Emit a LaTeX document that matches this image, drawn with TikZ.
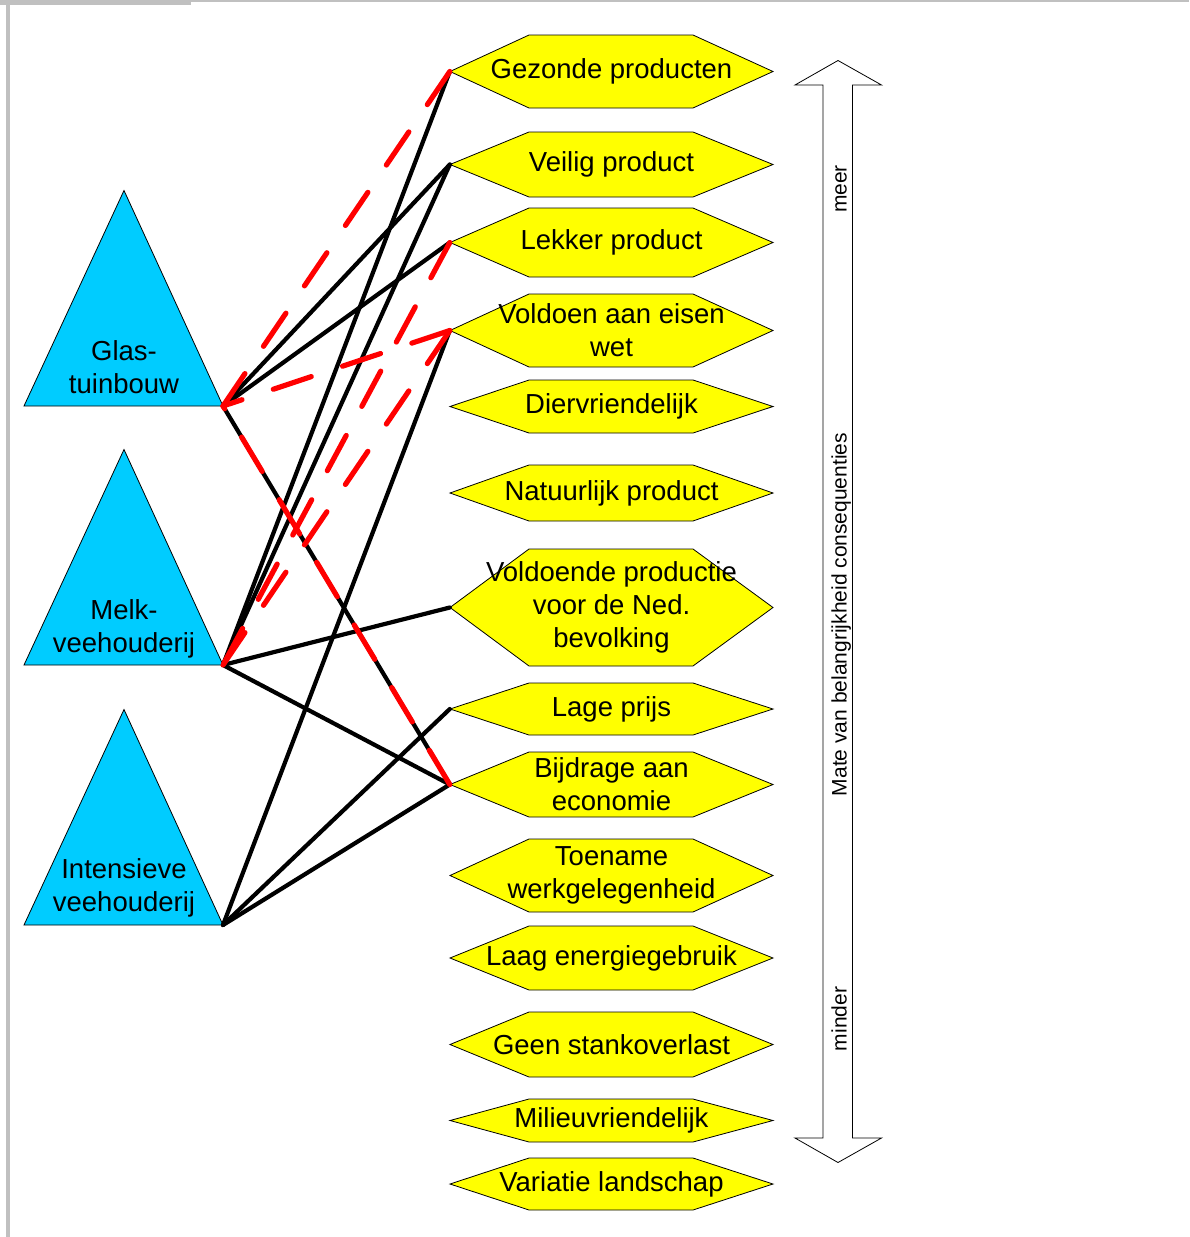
\documentclass[tikz,border=0pt]{standalone}
\usepackage{fontspec}
\setmainfont{Liberation Sans}
\usepackage{xcolor}
\definecolor{sectorblauw}{HTML}{00CCFF}
\definecolor{critgeel}{HTML}{FFFF00}
\definecolor{kader}{HTML}{C0C0C0}

% zeshoek met tekst: naam, y-midden, hoogte, tekst
\newcommand{\crit}[4]{%
  \filldraw[critvorm] (450,#2) -- (529,#2-#3/2) -- (693,#2-#3/2) -- (773,#2)
    -- (693,#2+#3/2) -- (529,#2+#3/2) -- cycle;
  \node[crit] (#1) at (611.5,#2) {#4};
}

\begin{document}
\begin{tikzpicture}[x=1pt, y=-1pt,
    sector/.style={fill=sectorblauw, draw=black, line width=0.8pt},
    sectortekst/.style={align=center, font=\fontsize{27.5}{33}\selectfont},
    critvorm/.style={fill=critgeel, draw=black, line width=0.8pt},
    crit/.style={align=center, minimum width=323pt, inner sep=0pt,
      font=\fontsize{27.5}{33}\selectfont},
    pijl/.style={fill=white, draw=black, line width=0.8pt},
    zijtekst/.style={rotate=90, anchor=base, font=\fontsize{21}{25}\selectfont},
    lijn/.style={line width=4.2pt, line cap=round},
    lijnrood/.style={red, line width=5.2pt, line cap=round, dash pattern=on 40pt off 33pt}]
  \useasboundingbox (0,0) rectangle (1189,1237);

  % kader
  \fill[kader] (0,0) rectangle (191,5);
  \fill[kader] (191,0) rectangle (1189,1.5);
  \fill[kader] (6,0) rectangle (10,1237);

  % sectoren
  \filldraw[sector] (24,406) -- (124,190.5) -- (223,406) -- cycle;
  \node[sectortekst] (glas) at (124,367) {Glas-\\tuinbouw};
  \coordinate (glas-punt) at (223,406);

  \filldraw[sector] (24,665) -- (124,449.5) -- (223,665) -- cycle;
  \node[sectortekst] (melk) at (124,628.5) {Melk-\\veehouderij};
  \coordinate (melk-punt) at (223,665);

  \filldraw[sector] (24,925) -- (124,709.5) -- (223,925) -- cycle;
  \node[sectortekst] (intensief) at (124,887.5) {Intensieve\\veehouderij};
  \coordinate (intensief-punt) at (223,925);

  % consequenties
  \crit{gezonde}{71.5}{73}{Gezonde producten}
  \crit{veilig}{164.5}{65}{Veilig product}
  \crit{lekker}{242.5}{69}{Lekker product}
  \crit{voldoen}{330.5}{73}{Voldoen aan eisen\\wet}
  \crit{dier}{406.5}{53}{Diervriendelijk}
  \crit{natuur}{493}{56}{Natuurlijk product}
  \crit{productie}{607.5}{117}{Voldoende productie\\voor de Ned.\\bevolking}
  \crit{prijs}{709}{52}{Lage prijs}
  \crit{economie}{784.5}{65}{Bijdrage aan\\economie}
  \crit{werk}{875.5}{73}{Toename\\werkgelegenheid}
  \crit{energie}{958}{64}{Laag energiegebruik}
  \crit{stank}{1044.5}{65}{Geen stankoverlast}
  \crit{milieu}{1120.5}{43}{Milieuvriendelijk}
  \crit{landschap}{1184}{52}{Variatie landschap}

  % schaal
  \filldraw[pijl] (838,60.5) -- (881.5,85) -- (852.5,85) -- (852.5,1138) -- (881.5,1138)
    -- (838,1162.5) -- (795,1138) -- (823,1138) -- (823,85) -- (795,85) -- cycle;
  \node[zijtekst] (meer) at (846.5,189) {meer};
  \node[zijtekst] (belang) at (846.5,614.5) {Mate van belangrijkheid consequenties};
  \node[zijtekst] (minder) at (846.5,1019) {minder};

  % verbanden
  \draw[lijn] (glas-punt) -- (veilig.west);
  \draw[lijn] (glas-punt) -- (lekker.west);
  \draw[lijn] (glas-punt) -- (economie.west);
  \draw[lijn] (melk-punt) -- (gezonde.west);
  \draw[lijn] (melk-punt) -- (veilig.west);
  \draw[lijn] (melk-punt) -- (productie.west);
  \draw[lijn] (melk-punt) -- (economie.west);
  \draw[lijn] (intensief-punt) -- (voldoen.west);
  \draw[lijn] (intensief-punt) -- (prijs.west);
  \draw[lijn] (intensief-punt) -- (economie.west);

  \draw[lijnrood] (gezonde.west) -- (glas-punt);
  \draw[lijnrood] (voldoen.west) -- (glas-punt);
  \draw[lijnrood] (economie.west) -- (glas-punt);
  \draw[lijnrood] (lekker.west) -- (melk-punt);
  \draw[lijnrood] (voldoen.west) -- (melk-punt);
\end{tikzpicture}
\end{document}
